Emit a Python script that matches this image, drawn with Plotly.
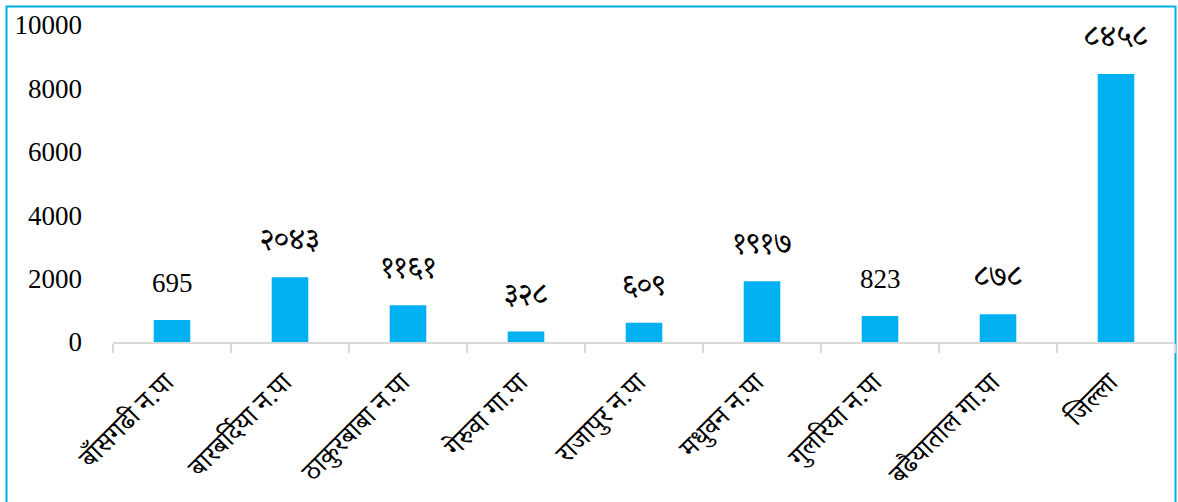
import plotly.graph_objects as go

categories = ["बाँसगढी न.पा", "बारबर्दिया न.पा", "ठाकुरबाबा न.पा", "गेरुवा गा.पा",
              "राजापुर न.पा", "मधुवन न.पा", "गुलरिया न.पा", "बढैयाताल गा.पा", "जिल्ला"]
values = [695, 2043, 1161, 328, 609, 1917, 823, 878, 8458]
value_labels = ["695", "२०४३", "११६१", "३२८", "६०९", "१९१७", "823", "८७८", "८४५८"]
y_ticks = [0, 2000, 4000, 6000, 8000, 10000]

W, H = 1178, 502
ML, MR, MT, MB = 113, 3, 25, 160

serif = "Liberation Serif, Times New Roman, Noto Serif Devanagari, Noto Sans Devanagari, serif"

fig = go.Figure()
fig.add_trace(go.Bar(
    x=categories, y=values,
    marker=dict(color="#00B0F0", line=dict(width=0)),
    width=0.31,
    hoverinfo="x+y",
))

for c, v, t in zip(categories, values, value_labels):
    is_ascii = t.isascii()
    fig.add_annotation(x=c, y=v, text=t, showarrow=False, yanchor="bottom",
                       yshift=20 if is_ascii else 19,
                       font=dict(family=serif, size=27 if is_ascii else 31, color="black"))

pw = W - ML - MR
ph = H - MT - MB
def px_x(p):
    return (p - ML) / pw
def px_y(p):
    return (H - MB - p) / ph
fig.add_shape(type="rect", xref="paper", yref="paper",
              x0=px_x(6.5), x1=px_x(1175.5), y0=px_y(505), y1=px_y(6.5),
              line=dict(color="#00B0F0", width=2), fillcolor="rgba(0,0,0,0)", layer="below")

fig.update_layout(
    width=W, height=H,
    margin=dict(l=ML, r=MR, t=MT, b=MB, autoexpand=False),
    paper_bgcolor="white", plot_bgcolor="white",
    showlegend=False,
    font=dict(family=serif, color="black"),
)
fig.update_xaxes(
    type="category",
    tickson="boundaries",
    ticks="outside", ticklen=9, tickcolor="#D9D9D9", tickwidth=1.5,
    showline=True, linecolor="#D9D9D9", linewidth=1.5,
    showgrid=False,
    tickangle=-45,
    automargin=False,
    ticklabelstandoff=12,
    ticklabelshift=-6,
    tickfont=dict(family=serif, size=27, color="black"),
)
fig.update_yaxes(
    range=[0, 10000],
    tickvals=y_ticks,
    ticktext=[str(v) for v in y_ticks],
    showgrid=False, zeroline=False, showline=False,
    ticks="", ticklabelstandoff=30,
    automargin=False,
    tickfont=dict(family=serif, size=27, color="black"),
)

fig.write_html("out.html", config={"displayModeBar": False},
               post_script="document.body.style.margin='0';document.body.style.overflow='hidden';")
